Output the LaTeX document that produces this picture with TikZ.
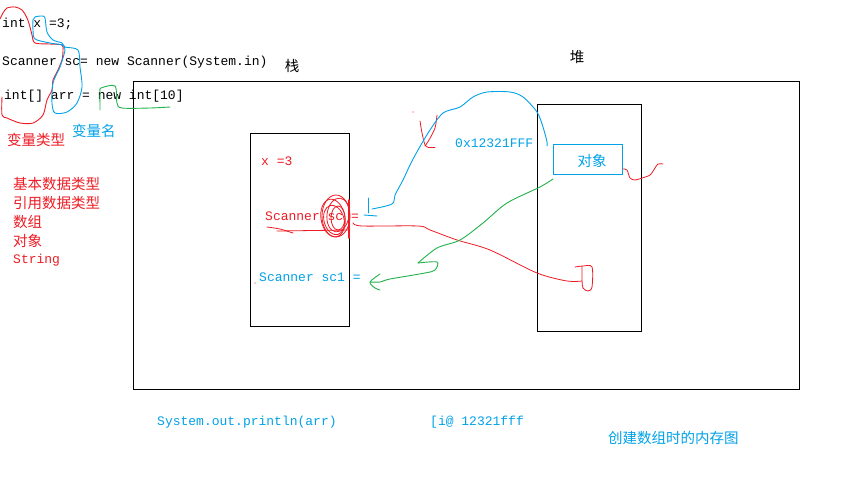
\documentclass[tikz,border=0pt]{standalone}
\usepackage{fontspec}
\setmainfont{Liberation Mono}
\newfontfamily\cjk{Noto Sans CJK SC}
\definecolor{pred}{RGB}{237,28,36}
\definecolor{pcyan}{RGB}{0,162,232}
\definecolor{pgreen}{RGB}{34,177,76}
\begin{document}
\begin{tikzpicture}[x=1pt,y=-1pt,
  txt/.style={inner sep=0pt, anchor=west, font=\fontsize{13}{13}\selectfont, text height=9pt, text depth=3pt},
  zh/.style={inner sep=0pt, anchor=west, font=\cjk\fontsize{14.5}{14.5}\selectfont},
  frame/.style={draw=black, line width=1pt},
  hand/.style={line width=0.9pt, line join=round, line cap=round}]
\useasboundingbox (0,0) rectangle (845,501);
\fill[white] (0,0) rectangle (845,501);

% frames
\draw[frame] (133,81) rectangle (799,389);
\draw[frame] (250,133) rectangle (349,326);
\draw[frame] (537,104) rectangle (641,331);
\node[draw=pcyan, line width=0.9pt, minimum width=69pt, minimum height=30pt, inner sep=0pt, anchor=north west] (obj) at (553,144) {};
\node[zh, text=pcyan, anchor=center] (objt) at (592,161) {对象};

% code lines
\node[txt] (l1) at (2,24) {int x =3;};
\node[txt] (l2) at (2,62) {Scanner sc= new Scanner(System.in)};
\node[txt] (l3) at (4,96) {int[] arr = new int[10]};
\node[zh, anchor=center] (zhan) at (292,66) {栈};
\node[zh, anchor=center] (dui) at (577,57) {堆};

% labels left
\node[zh, text=pred] (vtype) at (7,140) {变量类型};
\node[zh, text=pcyan] (vname) at (72,131) {变量名};
\node[zh, text=pred] (k1) at (13,184) {基本数据类型};
\node[zh, text=pred] (k2) at (13,203) {引用数据类型};
\node[zh, text=pred] (k3) at (13,222) {数组};
\node[zh, text=pred] (k4) at (13,241) {对象};
\node[txt, text=pred] (k5) at (13,260) {String};

% stack contents
\node[txt, text=pred] (sx) at (261,162) {x =3};
\node[txt, text=pred] (ssc) at (265,217) {Scanner sc =};
\node[txt, text=pcyan] (ssc1) at (259,278) {Scanner sc1 =};
\fill[pred] (255,283) circle (0.6pt);

% address
\node[txt, text=pcyan] (addr) at (455,144) {0x12321FFF};

% bottom
\node[txt, text=pcyan] (pr) at (157,422) {System.out.println(arr)};
\node[txt, text=pcyan] (res) at (430,422) {[i@ 12321fff};
\node[zh, text=pcyan] (cap) at (608,438) {创建数组时的内存图};

% hand-drawn: red loop around type (open on the left edge)
\draw[hand, pred] plot[smooth] coordinates {(0,19) (3,13) (7,8) (15,7) (22,10) (27,18) (30,27) (32,35) (35,43) (50,44) (62,45) (63,50) (62,60) (57,72) (53,80) (52,90) (47,100) (43,115) (33,123) (20,123) (7,118) (2,115) (2,97)};
% cyan loop around names
\draw[hand, pcyan] plot[smooth cycle] coordinates {(33,20) (35,17) (42,16) (45,18) (47,32) (53,40) (62,43) (65,47) (78,50) (80,67) (82,87) (77,103) (67,112) (55,113) (52,103) (53,83) (60,67) (65,50) (62,45) (50,43) (35,39) (33,30)};
% green mark under new
\draw[hand, pgreen] plot[smooth] coordinates {(100,110) (100,92) (101,88) (115,86) (117,103) (122,108) (150,108) (170,107)};

% red scribble around sc
\begin{scope}[hand, pred, line width=0.8pt]
\draw (336,216) ellipse [x radius=14, y radius=21];
\draw[rotate around={10:(333,218)}] (333,218) ellipse [x radius=12, y radius=19];
\draw[rotate around={-8:(338,215)}] (338,215) ellipse [x radius=11, y radius=17];
\draw[rotate around={15:(334,220)}] (334,220) ellipse [x radius=10, y radius=15];
\draw (338,218) ellipse [x radius=7, y radius=12];
\draw[line width=1.6pt] (349,200) -- (349,238);
\draw plot[smooth] coordinates {(267,227) (280,229) (293,233)};
\draw (277,231) -- (350,230);
% red line to the heap with hook
\draw plot[smooth] coordinates {(353,223) (362,226) (418,226) (430,230) (457,240) (490,250) (537,273) (567,281) (582,281)};
\draw plot[smooth] coordinates {(575,267) (583,266) (592,267) (592,287) (588,291) (583,288) (582,280) (582,267)};
% red squiggle right of object
\draw plot[smooth] coordinates {(623,169) (627,170) (630,178) (635,180) (642,178) (650,175) (655,168) (658,164) (663,164)};
% red X mark
\fill (413,112) circle (0.6pt);
\draw plot[smooth] coordinates {(420,121) (422,133) (425,145) (428,147)};
\draw plot[smooth] coordinates {(437,115) (435,128) (429,140) (425,146)};
\draw (428,147) -- (435,147);
\end{scope}

% cyan curve from sc to object
\begin{scope}[hand, pcyan]
\draw (368,198) -- (368,213);
\draw (364,215) -- (377,216);
\draw plot[smooth] coordinates {(372,209) (392,204) (395,195) (403,180) (410,165) (418,150) (430,130) (443,113) (460,107) (473,97) (487,92) (510,92) (523,97) (537,112) (543,127) (547,142) (547,146)};
\end{scope}

% green curve from object to sc1
\begin{scope}[hand, pgreen]
\draw plot[smooth] coordinates {(553,179) (540,187) (507,203) (483,223) (460,240) (437,248) (418,263)};
\draw plot[smooth] coordinates {(418,263) (437,262) (435,270) (425,273) (390,279) (380,282) (370,282)};
\draw plot[smooth] coordinates {(380,274) (370,282) (375,288) (380,290)};
\end{scope}
\end{tikzpicture}
\end{document}
